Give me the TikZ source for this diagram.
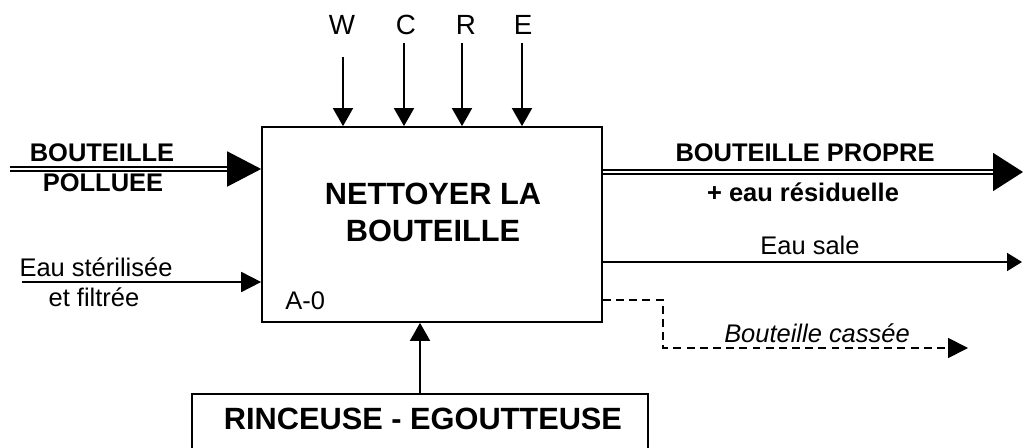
\documentclass[tikz,border=0pt]{standalone}
\usepackage{fontspec}
\setmainfont{Liberation Sans}
\usetikzlibrary{arrows.meta,positioning}

\tikzset{
  boxline/.style={draw, line width=1pt, inner sep=0pt},
  flow/.style={line width=1pt},
  dbl/.style={double, double distance=1.6pt, line width=0.8pt},
  bighead/.style={line width=1pt, -{Triangle[length=0.68cm,width=0.7cm]}},
  head/.style={line width=1pt, -{Triangle[length=0.38cm,width=0.4cm]}},
  lbl/.style={anchor=base, inner sep=0pt, font=\fontsize{14.5}{16}\selectfont},
  blbl/.style={lbl, font=\fontsize{14.5}{16}\selectfont\bfseries},
  big/.style={anchor=base, inner sep=0pt, font=\fontsize{17.5}{20}\selectfont\bfseries},
}

\begin{document}
\begin{tikzpicture}[x=0.02cm, y=-0.02cm]
\clip (0,0) rectangle (1023,448);

% activity box
\node[boxline, minimum width=6.8cm, minimum height=3.9cm] (proc) at (432,224.5) {};
\node[big] (title1) at (433,205) {NETTOYER LA};
\node[big] (title2) at (433,242) {BOUTEILLE};
\node[lbl, anchor=base west] (code) at (285,310) {A-0};

% controls
\foreach \n/\x/\lx/\s in {W/343/342/57, C/404/406/43, R/462/466/43, E/522/523/43} {
  \node[lbl, font=\fontsize{15.8}{18}\selectfont] (ctl\n) at (\lx,35) {\n};
  \coordinate (ctl\n top) at (\x,\s);
  \draw[head, -{Triangle[length=0.36cm,width=0.4cm]}] (ctl\n top) -- (ctl\n top |- proc.north);
}

% mechanism
\node[boxline, minimum width=9.12cm, minimum height=1.3cm, anchor=north] (mech) at (420,393) {};
\node[big] (mechtxt) at (423,430) {RINCEUSE - EGOUTTEUSE};
\draw[head, -{Triangle[length=0.36cm,width=0.4cm]}] (mech.north) -- (proc.south -| mech.north);

% inputs
\coordinate (in1) at (10,169);
\coordinate (in1tip) at (228,169);
\draw[dbl] (in1) -- (in1tip);
\draw[bighead] (in1tip) -- (in1tip -| proc.west);
\node[blbl] (in1a) at (102,162) {BOUTEILLE};
\node[blbl] (in1b) at (103,192) {POLLUEE};

\coordinate (in2) at (22,282);
\draw[head, -{Triangle[length=0.4cm,width=0.4cm]}] (in2) -- (in2 -| proc.west);
\node[lbl] (in2a) at (96,277) {Eau stérilisée};
\node[lbl] (in2b) at (94,307) {et filtrée};

% outputs
\coordinate (out1tip) at (993,172);
\coordinate (out1) at (1023,172);
\draw[dbl] (proc.east |- out1tip) -- (out1tip);
\draw[bighead, -{Triangle[length=0.6cm,width=0.76cm]}] (out1tip) -- (out1);
\node[blbl] (out1a) at (805,162) {BOUTEILLE PROPRE};
\node[blbl] (out1b) at (803,202) {+ eau résiduelle};

\coordinate (out2) at (1022,262);
\draw[flow, -{Triangle[length=0.3cm,width=0.36cm]}] (proc.east |- out2) -- (out2);
\node[lbl] (out2a) at (810,255) {Eau sale};

\coordinate (brk) at (663,300);
\coordinate (out3) at (968,348);
\draw[flow, dash pattern=on 4.5pt off 3pt, -{Triangle[length=0.4cm,width=0.4cm]}]
  (proc.east |- brk) -- (brk) |- (out3);
\node[lbl, font=\fontsize{14.5}{16}\selectfont\itshape] (out3a) at (817,343) {Bouteille cassée};
\end{tikzpicture}
\end{document}
